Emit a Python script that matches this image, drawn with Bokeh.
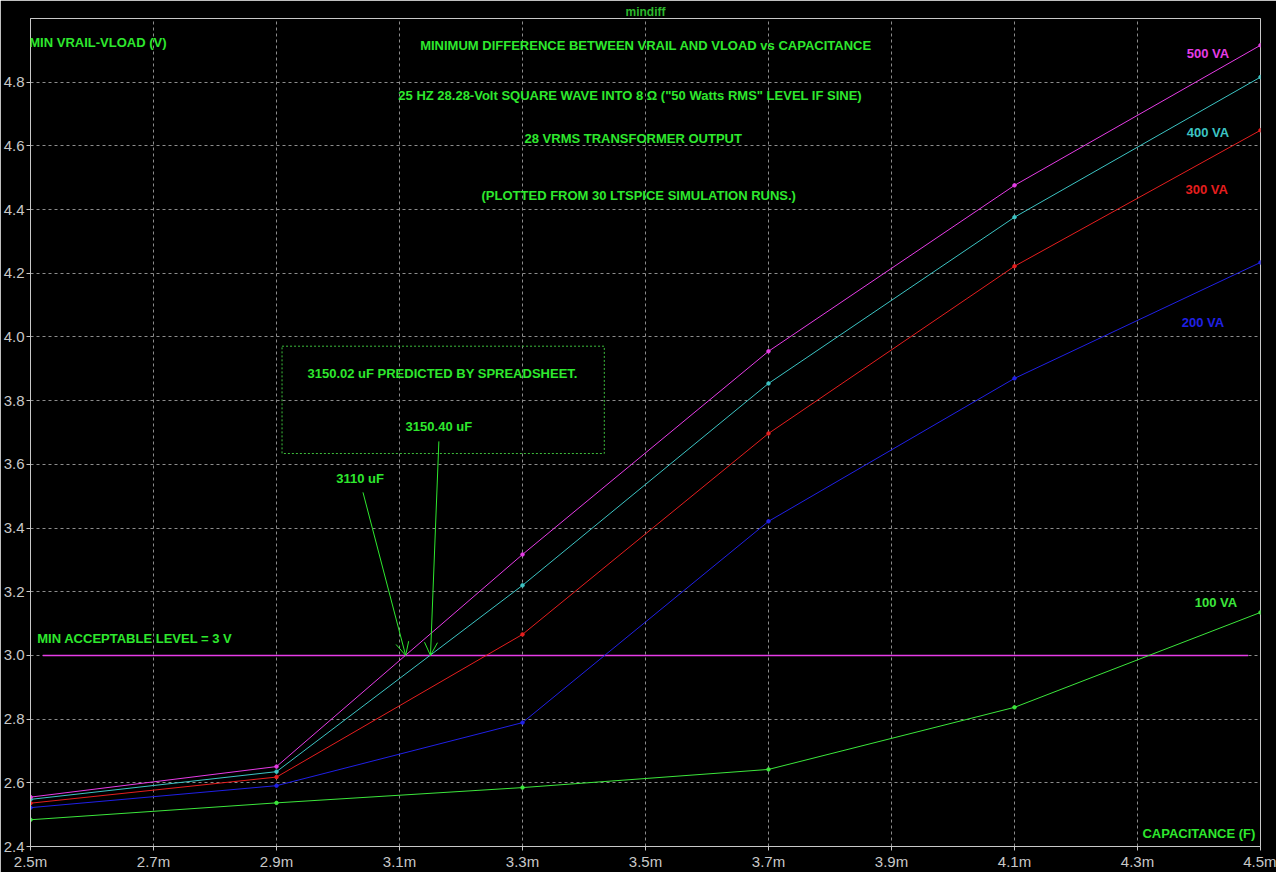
from bokeh.plotting import figure
from bokeh.models import (Label, Arrow, OpenHead, FixedTicker, CustomJSTickFormatter,
                          PrintfTickFormatter, Range1d)
from bokeh.embed import file_html
from bokeh.resources import INLINE

# ---- data ----
capacitance = [2.5e-3, 2.9e-3, 3.3e-3, 3.7e-3, 4.1e-3, 4.5e-3]
va_100 = [2.484, 2.537, 2.585, 2.642, 2.837, 3.135]
va_200 = [2.522, 2.591, 2.789, 3.421, 3.870, 4.234]
va_300 = [2.536, 2.618, 3.066, 3.697, 4.222, 4.649]
va_400 = [2.548, 2.635, 3.220, 3.854, 4.376, 4.816]
va_500 = [2.555, 2.651, 3.317, 3.955, 4.476, 4.916]
series_names = ["100 VA", "200 VA", "300 VA", "400 VA", "500 VA"]
min_level_x = [2.52e-3, 4.48e-3]
min_level_y = [3.0, 3.0]
crossing_c = [3.110e-3, 3.1504e-3]
crossing_v = [3.0, 3.0]
x_ticks = [2.5e-3, 2.7e-3, 2.9e-3, 3.1e-3, 3.3e-3, 3.5e-3, 3.7e-3, 3.9e-3, 4.1e-3, 4.3e-3, 4.5e-3]
y_ticks = [2.4, 2.6, 2.8, 3.0, 3.2, 3.4, 3.6, 3.8, 4.0, 4.2, 4.4, 4.6, 4.8]

TXT = "#2ee82e"
FONT = "Liberation Sans"
colors = ["#3ce63c", "#2020e6", "#e61e1e", "#3cc4c4", "#e63ce6"]
series = [va_100, va_200, va_300, va_400, va_500]

p = figure(width=1276, height=872, output_backend="svg", toolbar_location=None,
           x_range=Range1d(2.5e-3, 4.5e-3), y_range=Range1d(2.4, 5.0),
           background_fill_color="black", border_fill_color="black",
           min_border_left=20, min_border_right=16, min_border_top=18, min_border_bottom=26)
p.title.text = "mindiff"
p.title.align = "center"
p.title.text_color = "#2cb82c"
p.title.text_font = FONT
p.title.text_font_size = "12px"
p.title.text_font_style = "bold"
p.title.standoff = 0
p.title.offset = 0
p.outline_line_color = "#c8c8c8"
p.outline_line_width = 1

for ax in (p.xaxis[0], p.yaxis[0]):
    ax.axis_line_color = "#c8c8c8"
    ax.major_tick_line_color = "#c8c8c8"
    ax.major_tick_in = 0
    ax.major_tick_out = 4
    ax.minor_tick_line_color = None
    ax.major_label_text_color = "#c8c8c8"
    ax.major_label_text_font = FONT
    ax.major_label_text_font_size = "15px"
    ax.major_label_standoff = 2
p.xaxis.ticker = FixedTicker(ticks=x_ticks)
p.yaxis.ticker = FixedTicker(ticks=y_ticks)
p.xaxis.formatter = CustomJSTickFormatter(code="return (tick*1000).toFixed(1) + 'm';")
p.yaxis.formatter = PrintfTickFormatter(format="%.1f")

for g in (p.xgrid[0], p.ygrid[0]):
    g.grid_line_color = "#8c8c8c"
    g.grid_line_dash = "3 3"
    g.grid_line_width = 1

# predicted box
p.quad(left=[2.909e-3], right=[3.433e-3], bottom=[3.634], top=[3.971],
       fill_color=None, line_color="#3cbe3c", line_dash="2 2", line_width=1)

# level line
p.line(min_level_x, min_level_y, line_color="#e63ce6", line_width=1.5)

for ys, c in zip(series, colors):
    p.line(capacitance, ys, line_color=c, line_width=1)
    p.scatter(capacitance, ys, size=3.5, color=c)

# arrows
starts = [(3.0406e-3, 3.512), (3.164e-3, 3.672)]
for (sx, sy), ex, ey in zip(starts, crossing_c, crossing_v):
    p.add_layout(Arrow(x_start=sx, y_start=sy, x_end=ex, y_end=ey,
                       line_color=TXT, line_width=1,
                       end=OpenHead(size=13, line_color=TXT, line_width=1)))

def lab(text, x, y, color=TXT, align="left", size="13px", bold=True):
    p.add_layout(Label(x=x, y=y, text=text, text_color=color, text_align=align,
                       text_baseline="middle", text_font=FONT, text_font_size=size,
                       text_font_style="bold" if bold else "normal"))

lab("MIN VRAIL-VLOAD (V)", 2.498e-3, 4.925)
lab("MINIMUM DIFFERENCE BETWEEN VRAIL AND VLOAD vs CAPACITANCE", 3.5008e-3, 4.916, align="center")
lab("25 HZ 28.28-Volt SQUARE WAVE INTO 8 \u03a9 (\"50 Watts RMS\" LEVEL IF SINE)", 3.475e-3, 4.759, align="center")
lab("28 VRMS TRANSFORMER OUTPUT", 3.48e-3, 4.624, align="center")
lab("(PLOTTED FROM 30 LTSPICE SIMULATION RUNS.)", 3.489e-3, 4.445, align="center")
lab("3150.02 uF PREDICTED BY SPREADSHEET.", 3.170e-3, 3.886, align="center")
lab("3150.40 uF", 3.164e-3, 3.719, align="center")
lab("3110 uF", 3.036e-3, 3.556, align="center")
lab("MIN ACCEPTABLE LEVEL = 3 V", 2.511e-3, 3.053)
lab("CAPACITANCE (F)", 4.308e-3, 2.441)

label_pos = [(4.393e-3, 3.166), (4.372e-3, 4.046), (4.378e-3, 4.464), (4.380e-3, 4.643), (4.380e-3, 4.891)]
for name, c, (lx, ly) in zip(series_names, colors, label_pos):
    lab(name, lx, ly, color=c)

open("out.html", "w").write(file_html(p, INLINE))
